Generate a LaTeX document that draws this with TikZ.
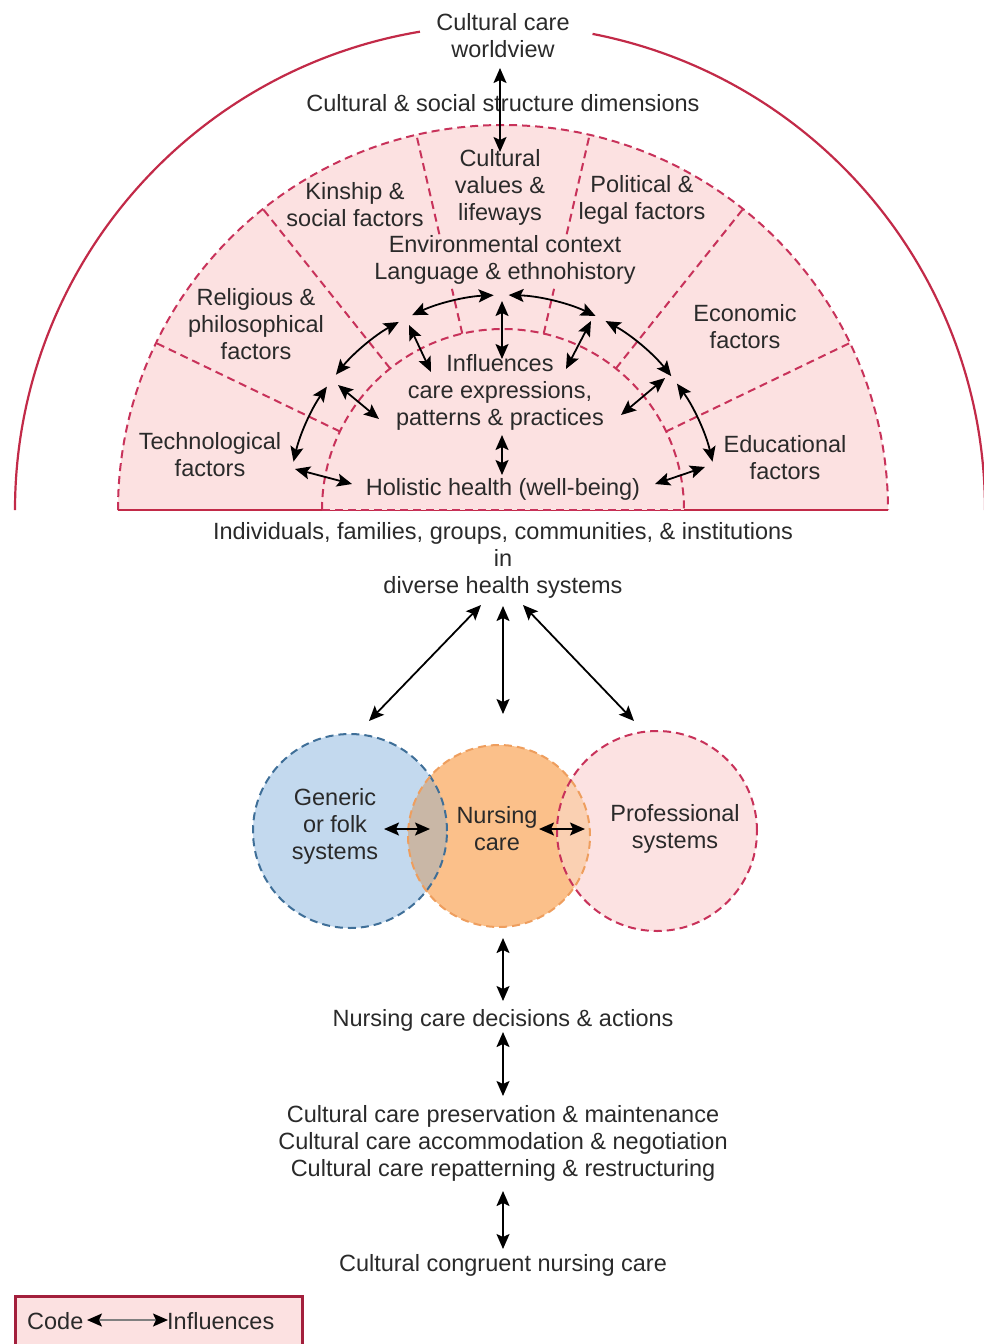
\documentclass[tikz,border=0pt]{standalone}
\usepackage{fontspec}
\setmainfont{Liberation Sans}
\usetikzlibrary{arrows.meta,calc}
\definecolor{arcred}{HTML}{C22A48}
\definecolor{dashred}{HTML}{C8325A}
\definecolor{pinkfill}{HTML}{FCE1E1}
\definecolor{profill}{HTML}{FCE2E2}
\definecolor{bluefill}{HTML}{C3D9EE}
\definecolor{blueline}{HTML}{3F6F98}
\definecolor{orangefill}{HTML}{FBC08A}
\definecolor{orangeline}{HTML}{EE9E5E}
\definecolor{txt}{HTML}{2A2A2A}
\definecolor{greyov}{HTML}{C9B7A6}
\definecolor{peachov}{HTML}{FAD0B2}
\definecolor{legred}{HTML}{A31F3C}
\tikzset{
  lbl/.style={text=txt, align=center, font=\fontsize{23.5}{27}\selectfont, inner sep=0pt},
  dashline/.style={draw=dashred, line width=2pt, dash pattern=on 8pt off 5pt},
  biarrow/.style={draw=black, line width=1.8pt, {Stealth[length=15pt,width=13pt,inset=3pt]}-{Stealth[length=15pt,width=13pt,inset=3pt]}},
  solidred/.style={draw=arcred, line width=2.2pt},
}
\begin{document}
\begin{tikzpicture}[x=1pt,y=1pt]
\useasboundingbox (0,0) rectangle (984,-1344);
\clip (0,0) rectangle (984,-1344);
\coordinate (C) at (503,-510);
\coordinate (O) at (500,-510);

% outer solid arc (worldview)
\draw[solidred] (15,-510) arc[start angle=180,end angle=99.5,radius=485];
\draw[solidred] ($(O)+(79:485)$) arc[start angle=79,end angle=0,radius=485];

% pink sunrise half-disc
\fill[pinkfill] (118,-510) arc[start angle=180,end angle=0,radius=385] -- cycle;
\draw[dashline] (118,-510) arc[start angle=180,end angle=0,radius=385];
\draw[dashline] (322,-510) arc[start angle=180,end angle=0,radius=181];
\foreach \a in {25.71,51.43,128.57,154.29}{
  \draw[dashline] ($(C)+(\a:181)$) -- ($(C)+(\a:385)$);
}
\foreach \a in {77,103}{
  \draw[dashline] ($(C)+(\a:283)$) -- ($(C)+(\a:385)$);
  \draw[dashline] ($(C)+(\a:181)$) -- ($(C)+(\a:227)$);
}
% base line
\draw[solidred] (118,-510) -- (322,-510);
\draw[solidred] (684,-510) -- (888,-510);
\draw[draw=arcred, line width=1pt] (322,-510) -- (684,-510);
\draw[dashline] (322,-510) -- (684,-510);

% labels in the sunrise
\node[lbl] (world) at (503,-36) {Cultural care\\worldview};
\node[lbl] (struct) at (503,-103) {Cultural \& social structure dimensions};
\node[lbl] (values) at (500,-187) {Cultural\\values \&\\lifeways};
\node[lbl] (kin) at (355,-205) {Kinship \&\\social factors};
\node[lbl] (pol) at (642,-200) {Political \&\\legal factors};
\node[lbl] (env) at (505,-260) {Environmental context\\Language \& ethnohistory};
\node[lbl] (rel) at (256,-324) {Religious \&\\philosophical\\factors};
\node[lbl] (eco) at (745,-327) {Economic\\factors};
\node[lbl] (tech) at (210,-455) {Technological\\factors};
\node[lbl] (edu) at (785,-458) {Educational\\factors};
\node[lbl] (infl) at (500,-392) {Influences\\care expressions,\\patterns \& practices};
\node[lbl] (hol) at (503,-489) {Holistic health (well-being)};
\node[lbl] (indiv) at (503,-560) {Individuals, families, groups, communities, \& institutions\\in\\diverse health systems};

% top arrow
\coordinate (t1) at (500,-68);
\coordinate (t2) at (500,-152);
\draw[biarrow] (t1) -- (t2);

% ring of arrows
\foreach \s/\e [count=\i] in {167/145,141/119,115/92.5,88.5/64.5,61.5/38.5,36/13}{
  \coordinate (r\i) at ($(C)+(\s:215)$);
  \draw[biarrow] (r\i) arc[start angle=\s,end angle=\e,radius=215];
}
% spokes
\coordinate (s1a) at (338,-385); \coordinate (s1b) at (379,-419);
\coordinate (s2a) at (409,-325); \coordinate (s2b) at (431,-372);
\coordinate (s3a) at (502,-301); \coordinate (s3b) at (502,-359);
\coordinate (s4a) at (591,-321); \coordinate (s4b) at (566,-369);
\coordinate (s5a) at (665,-378); \coordinate (s5b) at (621,-415);
\coordinate (s6a) at (502,-435); \coordinate (s6b) at (502,-475);
\coordinate (s7a) at (295,-469); \coordinate (s7b) at (352,-484);
\coordinate (s8a) at (655,-484); \coordinate (s8b) at (705,-467);
\foreach \k in {1,...,8}{ \draw[biarrow] (s\k a) -- (s\k b); }

% Venn circles
\coordinate (B) at (350,-831);
\coordinate (N) at (499,-836);
\coordinate (P) at (657,-831);
\fill[bluefill] (B) circle (97);
\fill[orangefill] (N) circle (91);
\fill[profill] (P) circle (100);
\begin{scope}\clip (B) circle (97); \fill[greyov] (N) circle (91); \end{scope}
\begin{scope}\clip (P) circle (100); \fill[peachov] (N) circle (91); \end{scope}
\draw[draw=blueline, line width=2pt, dash pattern=on 8pt off 5pt] (B) circle (97);
\draw[draw=orangeline, line width=2pt, dash pattern=on 8pt off 5pt] (N) circle (91);
\draw[draw=dashred, line width=2pt, dash pattern=on 8pt off 5pt] (P) circle (100);

\node[lbl] (gen) at (335,-826) {Generic\\or folk\\systems};
\node[lbl] (nur) at (497,-829) {Nursing\\care};
\node[lbl] (pro) at (675,-829) {Professional\\systems};

\coordinate (v1a) at (384,-829); \coordinate (v1b) at (430,-829);
\coordinate (v2a) at (539,-829); \coordinate (v2b) at (585,-829);
\draw[biarrow] (v1a) -- (v1b);
\draw[biarrow] (v2a) -- (v2b);

\coordinate (d0) at (481,-605); \coordinate (dL) at (369,-721);
\coordinate (d1) at (503,-606); \coordinate (dM) at (503,-714);
\coordinate (d2) at (523,-605); \coordinate (dR) at (634,-721);
\draw[biarrow] (d0) -- (dL);
\draw[biarrow] (d1) -- (dM);
\draw[biarrow] (d2) -- (dR);

% lower chain
\node[lbl] (dec) at (503,-1020) {Nursing care decisions \& actions};
\node[lbl] (pres) at (503,-1143) {Cultural care preservation \& maintenance\\Cultural care accommodation \& negotiation\\Cultural care repatterning \& restructuring};
\node[lbl] (cong) at (503,-1265) {Cultural congruent nursing care};
\coordinate (c1a) at (503,-938); \coordinate (c1b) at (503,-1001);
\coordinate (c2a) at (503,-1032); \coordinate (c2b) at (503,-1096);
\coordinate (c3a) at (503,-1191); \coordinate (c3b) at (503,-1249);
\draw[biarrow] (c1a) -- (c1b);
\draw[biarrow] (c2a) -- (c2b);
\draw[biarrow] (c3a) -- (c3b);

% legend
\draw[draw=legred, line width=3pt, fill=pinkfill] (15,-1296) rectangle (302,-1352);
\node[lbl, anchor=west] (code) at (27,-1321) {Code};
\node[lbl, anchor=west] (infk) at (167,-1321) {Influences};
\coordinate (la) at (87,-1320); \coordinate (lb) at (168,-1320);
\draw[draw=gray, line width=1.6pt, {Stealth[length=15pt,width=13pt,inset=3pt,color=black]}-{Stealth[length=15pt,width=13pt,inset=3pt,color=black]}] (la) -- (lb);
\end{tikzpicture}
\end{document}
